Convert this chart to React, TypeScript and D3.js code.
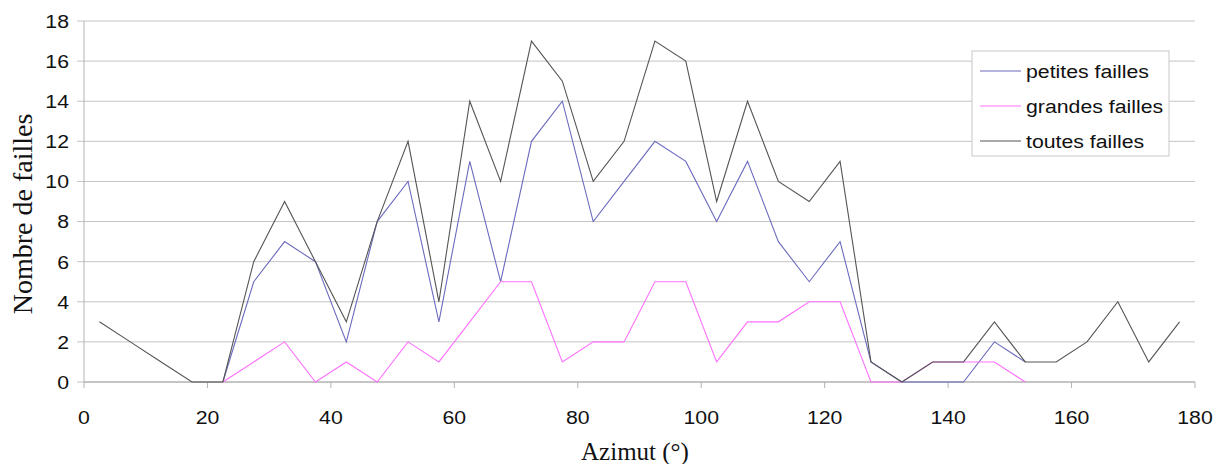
import React from "react";
import * as d3 from "d3";

const azimuts = [2.5, 7.5, 12.5, 17.5, 22.5, 27.5, 32.5, 37.5, 42.5, 47.5, 52.5, 57.5, 62.5, 67.5, 72.5, 77.5, 82.5, 87.5, 92.5, 97.5, 102.5, 107.5, 112.5, 117.5, 122.5, 127.5, 132.5, 137.5, 142.5, 147.5, 152.5, 157.5, 162.5, 167.5, 172.5, 177.5];
const petites: (number | null)[] = [null, null, null, null, 0, 5, 7, 6, 2, 8, 10, 3, 11, 5, 12, 14, 8, 10, 12, 11, 8, 11, 7, 5, 7, 1, 0, 0, 0, 2, 1, null, null, null, null, null];
const grandes: (number | null)[] = [null, null, null, null, 0, 1, 2, 0, 1, 0, 2, 1, 3, 5, 5, 1, 2, 2, 5, 5, 1, 3, 3, 4, 4, 0, 0, 1, 1, 1, 0, null, null, null, null, null];
const toutes: (number | null)[] = [3, 2, 1, 0, 0, 6, 9, 6, 3, 8, 12, 4, 14, 10, 17, 15, 10, 12, 17, 16, 9, 14, 10, 9, 11, 1, 0, 1, 1, 3, 1, 1, 2, 4, 1, 3];
const xTicks = [0, 20, 40, 60, 80, 100, 120, 140, 160, 180];
const yTicks = [0, 2, 4, 6, 8, 10, 12, 14, 16, 18];
const seriesNames = ["petites failles", "grandes failles", "toutes failles"];
const seriesColors = ["#6b6bbf", "#ff70ff", "#555555"];

export default function App() {
  const W = 1224, H = 464;
  const left = 84, right = 1195, top = 21, bottom = 382;
  const x = d3.scaleLinear().domain([0, 180]).range([left, right]);
  const y = d3.scaleLinear().domain([0, 18]).range([bottom, top]);
  const line = d3
    .line<[number, number | null]>()
    .defined((d) => d[1] !== null)
    .x((d) => x(d[0]))
    .y((d) => y(d[1] as number));
  const all = [petites, grandes, toutes];
  const sans = "'Liberation Sans', Arial, sans-serif";
  const serif = "'Liberation Serif', 'Times New Roman', serif";
  const fs = 19;
  const sx = 1.12;
  const legX = 972, legY = 51;
  return (
    <svg width={W} height={H} style={{ position: "absolute", left: 0, top: 0, background: "#fff" }}>
      {yTicks.map((t) => (
        <g key={"y" + t}>
          <line x1={left - 7} x2={right} y1={y(t)} y2={y(t)} stroke="#c4c4c4" strokeWidth={1} />
          <text
            transform={`translate(${left - 15}, ${y(t)}) scale(${sx},1)`}
            dy="0.36em"
            textAnchor="end"
            fontFamily={sans}
            fontSize={fs}
            fill="#111"
          >
            {t}
          </text>
        </g>
      ))}
      <line x1={left} x2={left} y1={top} y2={bottom} stroke="#b4b4b4" strokeWidth={1} />
      <line x1={left} x2={right} y1={bottom} y2={bottom} stroke="#a8a8a8" strokeWidth={1} />
      {xTicks.map((t) => (
        <g key={"x" + t}>
          <line x1={x(t)} x2={x(t)} y1={bottom} y2={bottom + 6} stroke="#b4b4b4" strokeWidth={1} />
          <text
            transform={`translate(${x(t)}, 424) scale(${sx},1)`}
            textAnchor="middle"
            fontFamily={sans}
            fontSize={fs}
            fill="#111"
          >
            {t}
          </text>
        </g>
      ))}
      {all.map((s, i) => (
        <path
          key={"s" + i}
          d={line(azimuts.map((a, k) => [a, s[k]] as [number, number | null])) || ""}
          fill="none"
          stroke={seriesColors[i]}
          strokeWidth={1.1}
        />
      ))}
      <text x={635} y={460} textAnchor="middle" fontFamily={serif} fontSize={25} fill="#111">
        Azimut (°)
      </text>
      <text
        transform={`translate(32, 214) rotate(-90)`}
        textAnchor="middle"
        fontFamily={serif}
        fontSize={28}
        fill="#111"
      >
        Nombre de failles
      </text>
      <rect x={legX} y={legY} width={197} height={105} fill="#fff" stroke="#c8c8c8" strokeWidth={1} />
      {seriesNames.map((n, i) => (
        <g key={"l" + i}>
          <line x1={legX + 8} x2={legX + 49} y1={legY + 20 + i * 35} y2={legY + 20 + i * 35} stroke={seriesColors[i]} strokeWidth={1.1} />
          <text
            transform={`translate(${legX + 54}, ${legY + 20 + i * 35}) scale(${sx},1)`}
            dy="0.36em"
            fontFamily={sans}
            fontSize={fs}
            fill="#111"
          >
            {n}
          </text>
        </g>
      ))}
    </svg>
  );
}
